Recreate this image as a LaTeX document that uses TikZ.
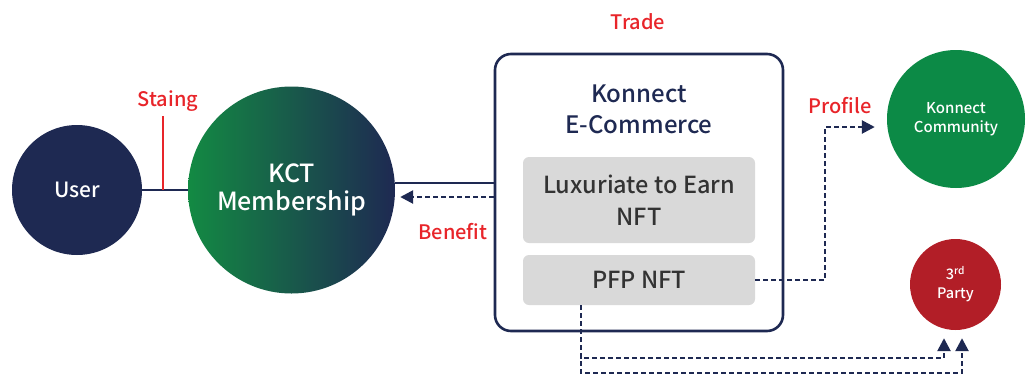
\documentclass[tikz,border=0pt]{standalone}
\usepackage{tikz}
\usepackage{xcolor}
\usepackage{fontspec}
\setmainfont{Noto Sans CJK KR}[BoldFont={Noto Sans CJK KR Medium}]
\usetikzlibrary{shapes.geometric, arrows.meta, positioning, calc}
\definecolor{navyblue}{HTML}{1E2952}
\definecolor{kctgreen}{HTML}{138A43}
\definecolor{communitygreen}{HTML}{0C8A46}
\definecolor{partyred}{HTML}{B21E27}
\definecolor{labelred}{HTML}{E8252A}
\definecolor{boxgray}{HTML}{D9D9D9}
\definecolor{textdark}{HTML}{333333}

\begin{document}
\begin{tikzpicture}[x=1pt, y=-1pt,
  bubble/.style={circle, draw=none, align=center, text=white, inner sep=0pt},
  inner/.style={rectangle, fill=boxgray, rounded corners=6pt, minimum width=232pt, align=center, text=textdark, font=\fontsize{23.5}{32}\selectfont\bfseries},
  tag/.style={text=labelred, font=\fontsize{20}{24}\selectfont\bfseries},
  link/.style={draw=navyblue, line width=2.8pt},
  flow/.style={draw=navyblue, line width=2.6pt, dash pattern=on 5pt off 3pt, -{Triangle[length=13pt, width=13pt]}}
]
  \useasboundingbox (0,0) rectangle (1029,373);

  % Entities
  \node[bubble, fill=navyblue, minimum size=130pt, font=\fontsize{21}{24}\selectfont\bfseries] (user) at (77,190) {User};
  \node[bubble, left color=kctgreen, right color=navyblue, minimum size=207pt, font=\fontsize{25}{28}\selectfont\bfseries] (kct) at (291.5,190) {KCT\\Membership};
  \node[rectangle, draw=navyblue, line width=2.6pt, rounded corners=16pt, minimum width=288pt, minimum height=277pt] (commerce) at (639,192.5) {};
  \node[text=navyblue, align=center, font=\fontsize{24}{31}\selectfont\bfseries] (commercetitle) at (639,109) {Konnect\\E-Commerce};
  \node[inner, minimum height=86pt] (l2e) at (639,200) {Luxuriate to Earn\\NFT};
  \node[inner, minimum height=50pt] (pfp) at (639,280) {PFP NFT};
  \node[bubble, fill=communitygreen, minimum size=138pt, font=\fontsize{15}{19}\selectfont\bfseries] (community) at (956,119) {Konnect\\Community};
  \node[bubble, fill=partyred, minimum size=91pt, font=\fontsize{14.5}{19}\selectfont\bfseries] (party) at (955.5,284.5) {3\textsuperscript{rd}\\Party};

  % Labels
  \node[tag] (trade) at (638,22) {Trade};
  \node[tag] (staing) at (168,101) {Staing};
  \node[tag] (benefit) at (453,232) {Benefit};
  \node[tag] (profile) at (840,106) {Profile};

  % Arrows
  \coordinate (stake) at (163,190);
  \draw[link] (user) -- (kct);
  \draw[draw=labelred, line width=2.2pt] (stake) -- (stake |- 0,116);
  \draw[link] (kct.east |- 0,183) -- (commerce.west |- 0,183);
  \draw[flow] (commerce.west |- 0,197) -- ([xshift=5pt]kct.east |- 0,197);

  \coordinate (profilebend) at (825,127);
  \draw[flow] (pfp.east) -| (profilebend) -- ([xshift=-12pt]community.west |- profilebend);

  \coordinate (partydrop) at ([xshift=-58pt]pfp.south);
  \draw[flow] (partydrop) |- (944,358) -- ([xshift=-11.5pt, yshift=-8pt]party.south);
  \draw[flow] (partydrop) |- (962,373) -- ([xshift=6.5pt, yshift=-8pt]party.south);
\end{tikzpicture}
\end{document}
